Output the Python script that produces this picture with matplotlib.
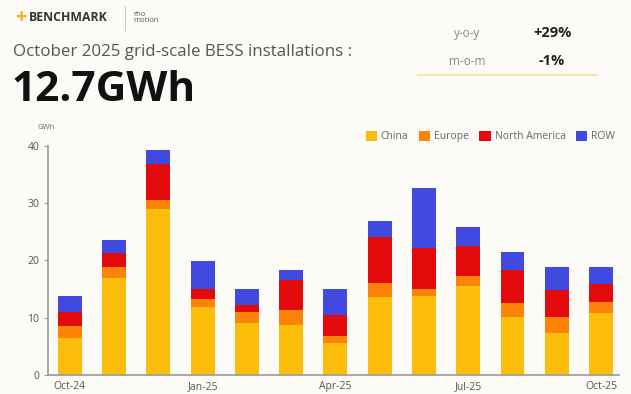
import matplotlib
matplotlib.use("Agg")
import matplotlib.pyplot as plt
from matplotlib.lines import Line2D
import numpy as np

# monthly grid-scale BESS installations by region, GWh
months = ["Oct-24", "Nov-24", "Dec-24", "Jan-25", "Feb-25", "Mar-25", "Apr-25",
          "May-25", "Jun-25", "Jul-25", "Aug-25", "Sep-25", "Oct-25"]
china = [6.5, 17.0, 29.0, 11.8, 9.0, 8.8, 5.6, 13.7, 13.8, 15.6, 10.2, 7.3, 10.9]
europe = [2.1, 1.9, 1.5, 1.5, 2.0, 2.5, 1.3, 2.3, 1.3, 1.6, 2.3, 2.9, 1.9]
north_america = [2.4, 2.4, 6.3, 1.8, 1.3, 5.2, 3.6, 8.1, 7.1, 5.4, 5.8, 4.6, 3.1]
row = [2.8, 2.3, 2.5, 4.8, 2.7, 1.8, 4.6, 2.8, 10.4, 3.2, 3.2, 4.1, 2.9]

series = [("China", china, "#FDBE0B"),
          ("Europe", europe, "#FD8308"),
          ("North America", north_america, "#E20A0A"),
          ("ROW", row, "#4049E0")]

bg = "#FCFBF7"
plt.rcParams["font.family"] = ["Open Sans", "DejaVu Sans"]

fig = plt.figure(figsize=(6.31, 3.94), dpi=100, facecolor=bg)
ax = fig.add_axes([0.0756, 0.048, 0.905, 0.582], facecolor=bg)

x = np.arange(len(months))
bottom = np.zeros(len(months))
for name, vals, col in series:
    ax.bar(x, vals, width=0.54, bottom=bottom, color=col, label=name)
    bottom += np.array(vals)

ax.set_ylim(0, 40)
ax.set_xlim(-0.5, 12.4)
ax.set_yticks([0, 10, 20, 30, 40])
ax.set_xticks([0, 3, 6, 9, 12])
ax.set_xticklabels([months[i] for i in [0, 3, 6, 9, 12]])
ax.tick_params(axis="y", length=3, color="#999999", labelcolor="#555555", labelsize=7.5, pad=3)
ax.tick_params(axis="x", length=0, labelcolor="#555555", labelsize=7.5, pad=4)
for s in ["top", "right"]:
    ax.spines[s].set_visible(False)
for s in ["left", "bottom"]:
    ax.spines[s].set_color("#999999")
    ax.spines[s].set_linewidth(1.2)

ax.text(-0.017, 1.078, "GWh", transform=ax.transAxes, fontsize=5.5, color="#666666",
        ha="left", va="center")
ax.legend(ncol=4, loc="center right", bbox_to_anchor=(1.01, 1.04), frameon=False,
          fontsize=7.5, handlelength=1.1, handleheight=1.1, handletextpad=0.35,
          columnspacing=1.0, labelcolor="#666666")

# header
fig.text(0.024, 0.955, "+", color="#F5B21B", fontsize=14, fontweight="bold",
         ha="left", va="center")
fig.text(0.046, 0.955, "BENCHMARK", color="#333333", fontsize=8.8, fontweight="bold",
         ha="left", va="center")
fig.add_artist(Line2D([0.198, 0.198], [0.925, 0.985], transform=fig.transFigure,
                      color="#cccccc", lw=0.8))
fig.text(0.212, 0.955, "rho\nmotion", color="#555555", fontsize=5.5, linespacing=0.8,
         ha="left", va="center")
fig.text(0.021, 0.868, "October 2025 grid-scale BESS installations :", color="#555555",
         fontsize=12.2, ha="left", va="center")
fig.text(0.018, 0.77, "12.7GWh", color="#111111", fontsize=30.5, fontweight="bold",
         ha="left", va="center")

fig.text(0.74, 0.915, "y-o-y", color="#888888", fontsize=8.5, ha="center", va="center")
fig.text(0.875, 0.915, "+29%", color="#222222", fontsize=10.5, fontweight="bold",
         ha="center", va="center")
fig.text(0.74, 0.845, "m-o-m", color="#888888", fontsize=8.5, ha="center", va="center")
fig.text(0.875, 0.845, "-1%", color="#222222", fontsize=10.5, fontweight="bold",
         ha="center", va="center")
fig.add_artist(Line2D([0.662, 0.946], [0.81, 0.81], transform=fig.transFigure,
                      color="#F7E6A6", lw=1.5))

fig.savefig("out.png", dpi=100, facecolor=bg)
